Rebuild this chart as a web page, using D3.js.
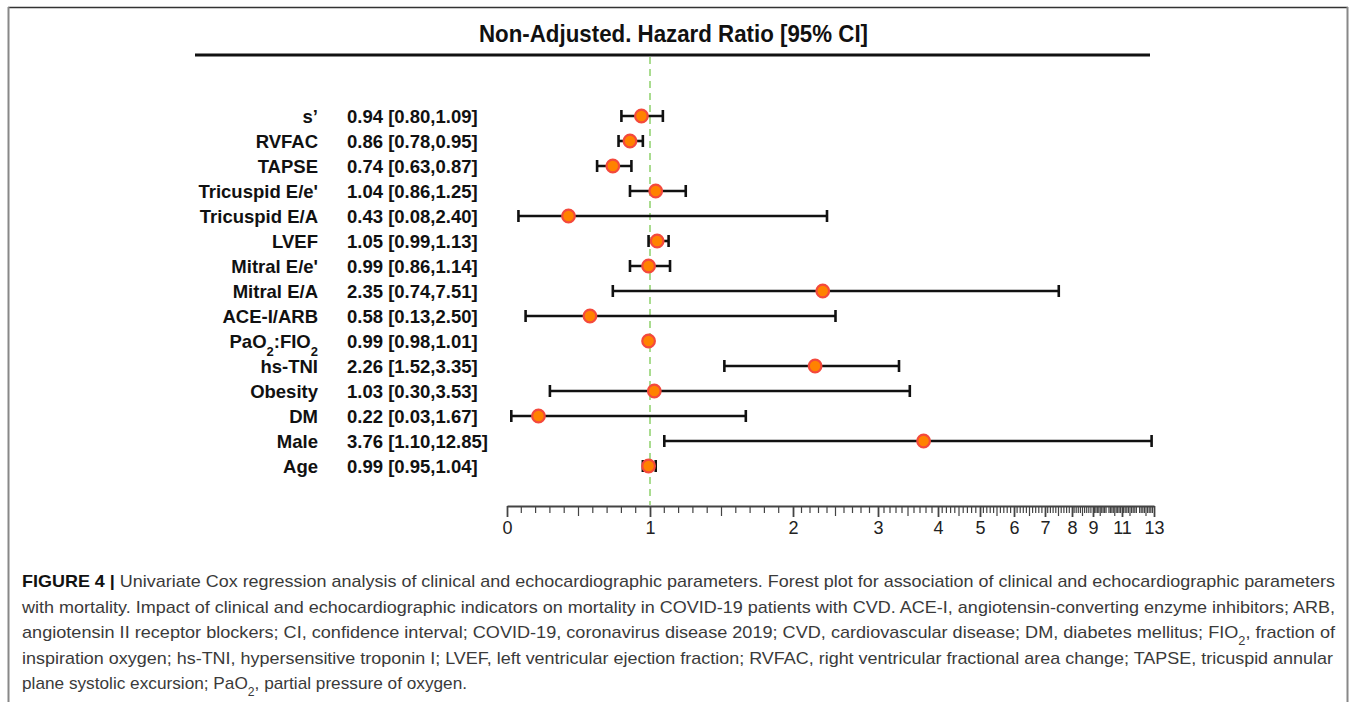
<!DOCTYPE html>
<meta charset="utf-8">
<style>
body { margin: 0; background: #fff; }
svg { display: block; }
.lbl { font-family: "Liberation Sans", Arial, sans-serif; font-weight: bold; font-size: 18.5px; fill: #111; }
.cap { font-family: "Liberation Sans Narrow", "Liberation Sans", Arial, sans-serif; font-size: 17px; fill: #3a3a3a; }
.axis text { font-family: "Liberation Sans", Arial, sans-serif; font-size: 18px; fill: #222; }
.axis path, .axis line { stroke: #444; }
</style>
<svg width="1357" height="702"></svg>
<script src="https://d3js.org/d3.v7.min.js"></script>
<script>

// rows, top to bottom ({2} = subscript)
var labels = ["s\u2019", "RVFAC", "TAPSE", "Tricuspid E/e'", "Tricuspid E/A", "LVEF", "Mitral E/e'",
  "Mitral E/A", "ACE-I/ARB", "PaO{2}:FIO{2}", "hs-TNI", "Obesity", "DM", "Male", "Age"];
var hr = [0.94, 0.86, 0.74, 1.04, 0.43, 1.05, 0.99, 2.35, 0.58, 0.99, 2.26, 1.03, 0.22, 3.76, 0.99];
var lo = [0.80, 0.78, 0.63, 0.86, 0.08, 0.99, 0.86, 0.74, 0.13, 0.98, 1.52, 0.30, 0.03, 1.10, 0.95];
var hi = [1.09, 0.95, 0.87, 1.25, 2.40, 1.13, 1.14, 7.51, 2.50, 1.01, 3.35, 3.53, 1.67, 12.85, 1.04];

// axis tick labels (the printed axis is stretched piecewise)
var tickValues = [0, 1, 2, 3, 4, 5, 6, 7, 8, 9, 11, 13];

var title = "Non-Adjusted. Hazard Ratio [95% CI]";
var captionLines = [
  "Univariate Cox regression analysis of clinical and echocardiographic parameters. Forest plot for association of clinical and echocardiographic parameters",
  "with mortality. Impact of clinical and echocardiographic indicators on mortality in COVID-19 patients with CVD. ACE-I, angiotensin-converting enzyme inhibitors; ARB,",
  "angiotensin II receptor blockers; CI, confidence interval; COVID-19, coronavirus disease 2019; CVD, cardiovascular disease; DM, diabetes mellitus; FIO{2}, fraction of",
  "inspiration oxygen; hs-TNI, hypersensitive troponin I; LVEF, left ventricular ejection fraction; RVFAC, right ventricular fractional area change; TAPSE, tricuspid annular",
  "plane systolic excursion; PaO{2}, partial pressure of oxygen."
];

var svg = d3.select("svg");

// where each labelled tick sits on the printed axis
var tickPos = [507, 650, 793, 878, 938, 980, 1014, 1045, 1072, 1093, 1122, 1154];
var x = d3.scaleLinear().domain(tickValues).range(tickPos);
var y = d3.scalePoint().domain(d3.range(labels.length)).range([116, 466]);

// writes text with {n} chunks as subscripts
function addRich(sel, str, subSize) {
  str.split(/(\{[^}]*\})/).forEach(function(part) {
    if (!part) return;
    if (part[0] == "{") {
      sel.append("tspan").attr("baseline-shift", "sub").attr("font-size", subSize)
        .text(part.slice(1, -1));
    } else {
      sel.append("tspan").text(part);
    }
  });
}

// page frame
svg.append("line").attr("x1", 8).attr("x2", 1348).attr("y1", 7.5).attr("y2", 7.5)
  .attr("stroke", "#333").attr("stroke-width", 1.5);
svg.append("line").attr("x1", 8.5).attr("x2", 8.5).attr("y1", 7).attr("y2", 702)
  .attr("stroke", "#888").attr("stroke-width", 2);
svg.append("line").attr("x1", 1347.5).attr("x2", 1347.5).attr("y1", 7).attr("y2", 702)
  .attr("stroke", "#888").attr("stroke-width", 2);

// title and rule
svg.append("text").attr("x", 479).attr("y", 42)
  .attr("textLength", 389).attr("lengthAdjust", "spacingAndGlyphs")
  .style("font-family", "'Liberation Sans', Arial, sans-serif")
  .style("font-weight", "bold").style("font-size", "24px").style("fill", "#111")
  .text(title);
svg.append("line").attr("x1", 195).attr("x2", 1150).attr("y1", 55).attr("y2", 55)
  .attr("stroke", "#111").attr("stroke-width", 3);

// reference line at HR = 1
svg.append("line").attr("x1", x(1)).attr("x2", x(1)).attr("y1", 57).attr("y2", 505)
  .attr("stroke", "#a9dc8f").attr("stroke-width", 2).attr("stroke-dasharray", "7,5");

// axis
var axis = svg.append("g").attr("class", "axis").attr("transform", "translate(0,506)");
axis.call(d3.axisBottom(x).tickValues(tickValues).tickSize(11).tickSizeOuter(0)
  .tickPadding(4).tickFormat(d3.format("d")));
axis.select(".domain").attr("stroke-width", 2);
axis.selectAll(".tick line").attr("stroke-width", 1.8);

var minor = d3.range(1, 130).map(function(i) { return i / 10; })
  .filter(function(v) { return Math.abs(v - Math.round(v)) > 1e-6; });
axis.selectAll(".minor").data(minor).enter().append("line")
  .attr("class", "minor")
  .attr("x1", function(d) { return x(d); })
  .attr("x2", function(d) { return x(d); })
  .attr("y1", 0)
  .attr("y2", function(d) { return Math.abs(d % 1 - 0.5) < 1e-6 ? 10 : 7; })
  .attr("stroke", "#777").attr("stroke-width", 1.2);

// row labels and HR text
var rows = svg.append("g");
labels.forEach(function(lab, i) {
  var t = rows.append("text").attr("class", "lbl").attr("x", 318).attr("y", y(i) + 7)
    .attr("text-anchor", "end");
  addRich(t, lab, "13px");
  rows.append("text").attr("class", "lbl").attr("x", 347).attr("y", y(i) + 7)
    .text(hr[i].toFixed(2) + " [" + lo[i].toFixed(2) + "," + hi[i].toFixed(2) + "]");
});

// error bars
var bars = svg.append("g").attr("stroke", "#111").attr("stroke-width", 2.6);
bars.selectAll(".ci").data(labels).enter().append("line")
  .attr("x1", function(d, i) { return x(lo[i]); })
  .attr("x2", function(d, i) { return x(hi[i]); })
  .attr("y1", function(d, i) { return y(i); })
  .attr("y2", function(d, i) { return y(i); });
bars.selectAll(".capL").data(labels).enter().append("line")
  .attr("x1", function(d, i) { return x(lo[i]); })
  .attr("x2", function(d, i) { return x(lo[i]); })
  .attr("y1", function(d, i) { return y(i) - 6; })
  .attr("y2", function(d, i) { return y(i) + 6; });
bars.selectAll(".capR").data(labels).enter().append("line")
  .attr("x1", function(d, i) { return x(hi[i]); })
  .attr("x2", function(d, i) { return x(hi[i]); })
  .attr("y1", function(d, i) { return y(i) - 6; })
  .attr("y2", function(d, i) { return y(i) + 6; });

// points
svg.append("g").selectAll("circle").data(hr).enter().append("circle")
  .attr("cx", function(d) { return x(d); })
  .attr("cy", function(d, i) { return y(i); })
  .attr("r", 6.3)
  .attr("fill", "#ff8200")
  .attr("stroke", "#f4493c")
  .attr("stroke-width", 2.2);

// caption
var cap = svg.append("g");
var capWidths = [1313, 1313, 1313, 1311, 445];
captionLines.forEach(function(line, i) {
  var t = cap.append("text").attr("class", "cap").attr("x", 22).attr("y", 587 + i * 25.5)
    .attr("textLength", capWidths[i]).attr("lengthAdjust", "spacingAndGlyphs");
  if (i == 0) {
    t.append("tspan").style("font-weight", "bold").style("fill", "#111").text("FIGURE 4 | ");
  }
  addRich(t, line, "12px");
});

</script>
